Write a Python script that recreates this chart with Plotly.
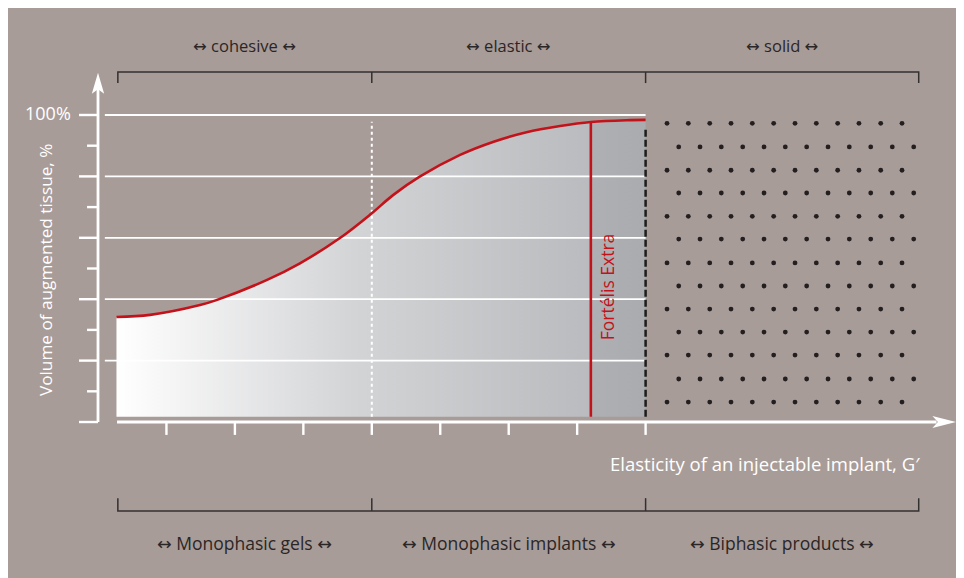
import plotly.graph_objects as go

# ---------------- data ----------------
curve_x = [0.27, 0.76, 1.49, 1.73, 2.47, 2.95, 3.54, 3.99, 4.31, 4.70, 5.29, 5.78, 6.26, 6.75, 7.20, 7.72, 8.00]
curve_y = [34.2, 34.9, 38.1, 39.7, 46.3, 51.7, 60.0, 67.8, 73.9, 79.9, 87.0, 91.3, 94.4, 96.4, 97.7, 98.3, 98.4]

fill_base = 1.7
product_x = 7.20
product_label = "Fortélis Extra"
product_top = 97.7

grid_levels = [20, 40, 60, 80, 100]
major_ticks_y = [0, 20, 40, 60, 80, 100]
minor_ticks_y = [10, 30, 50, 70, 90]
ticks_x = [1, 2, 3, 4, 5, 6, 7, 8]

region_edges = [0.29, 4, 8, 11.99]
top_labels = ["↔ cohesive ↔", "↔ elastic ↔", "↔ solid ↔"]
bottom_labels = ["↔ Monophasic gels ↔", "↔ Monophasic implants ↔", "↔ Biphasic products ↔"]

dot_rows_y = [97.3, 89.6, 82.0, 74.6, 67.0, 59.6, 51.8, 44.3, 36.8, 29.3, 21.8, 14.0, 6.5]
dot_cols_odd = [8.313, 8.624, 8.937, 9.248, 9.559, 9.871, 10.183, 10.494, 10.806, 11.117, 11.435, 11.746]
dot_cols_even = [8.484, 8.795, 9.106, 9.419, 9.730, 10.041, 10.353, 10.665, 10.976, 11.289, 11.604, 11.917]

x_title = "Elasticity of an injectable implant, G′"
y_title = "Volume of augmented tissue, %"

# ---------------- style ----------------
BG = "#a89c98"
RED = "#c4121b"
DARK = "#2b2626"
WHITE = "#ffffff"
FONT = "Open Sans, DejaVu Sans, sans-serif"

fig = go.Figure()

# gradient fills under the curve (split at product line)
i_split = curve_x.index(product_x)
seg1_x = curve_x[:i_split + 1]
seg1_y = curve_y[:i_split + 1]
seg2_x = curve_x[i_split:]
seg2_y = curve_y[i_split:]

for sx, sy, cs in [
    (seg1_x, seg1_y, [[0, "#ffffff"], [0.5, "#d3d4d6"], [1, "#b9bbbe"]]),
    (seg2_x, seg2_y, [[0, "#aeb0b3"], [1, "#a9abae"]]),
]:
    fig.add_trace(go.Scatter(x=[sx[0], sx[-1]], y=[fill_base, fill_base], mode="lines",
                             line=dict(width=0), hoverinfo="skip", showlegend=False))
    fig.add_trace(go.Scatter(x=sx, y=sy, mode="lines", line=dict(width=0, shape="spline"),
                             fill="tonexty", fillgradient=dict(type="horizontal", colorscale=cs),
                             hoverinfo="skip", showlegend=False))

# gridlines
gx, gy = [], []
for lv in grid_levels:
    gx += [0.10, 8.0, None]
    gy += [lv, lv, None]
fig.add_trace(go.Scatter(x=gx, y=gy, mode="lines", line=dict(color=WHITE, width=1.8),
                         hoverinfo="skip", showlegend=False))

# white dotted boundary at x=4
fig.add_trace(go.Scatter(x=[region_edges[1], region_edges[1]], y=[fill_base, 97.8], mode="lines",
                         line=dict(color=WHITE, width=2, dash="dot"), hoverinfo="skip", showlegend=False))
# black dashed boundary at x=8
fig.add_trace(go.Scatter(x=[region_edges[2], region_edges[2]], y=[fill_base, 96.2], mode="lines",
                         line=dict(color="#1e1c1c", width=2.5, dash="7px,3px"), hoverinfo="skip", showlegend=False))

# red curve
fig.add_trace(go.Scatter(x=curve_x, y=curve_y, mode="lines", line=dict(color=RED, width=2.6, shape="spline"),
                         hoverinfo="skip", showlegend=False))
# product vertical line
fig.add_trace(go.Scatter(x=[product_x, product_x], y=[fill_base, product_top], mode="lines",
                         line=dict(color=RED, width=2.6), hoverinfo="skip", showlegend=False))

# dot pattern (solid region)
dx, dy = [], []
for i, ry in enumerate(dot_rows_y):
    cols = dot_cols_odd if i % 2 == 0 else dot_cols_even
    dx += cols
    dy += [ry] * len(cols)
fig.add_trace(go.Scatter(x=dx, y=dy, mode="markers", marker=dict(color="#231f20", size=4.8, line=dict(width=0)),
                         hoverinfo="skip", showlegend=False))

# axes lines and ticks
ax_x = [0, 0, None, 0.278, 12.25]
ax_y = [0, 108.8, None, 0, 0]
fig.add_trace(go.Scatter(x=ax_x, y=ax_y, mode="lines", line=dict(color=WHITE, width=2.8),
                         hoverinfo="skip", showlegend=False))
tx, ty = [], []
for v in major_ticks_y:
    tx += [-0.278, 0, None]
    ty += [v, v, None]
for v in minor_ticks_y:
    tx += [-0.16, 0, None]
    ty += [v, v, None]
for v in ticks_x:
    tx += [v, v, None]
    ty += [0, -4.2, None]
fig.add_trace(go.Scatter(x=tx, y=ty, mode="lines", line=dict(color=WHITE, width=2.4),
                         hoverinfo="skip", showlegend=False))

# brackets
def bracket(y_line, y_end):
    bx, by = [region_edges[0], region_edges[0], region_edges[-1], region_edges[-1], None], [y_end, y_line, y_line, y_end, None]
    for e in region_edges[1:-1]:
        bx += [e, e, None]
        by += [y_line, y_end, None]
    return bx, by

for yl, ye in [(114.0, 110.4), (-29.0, -24.8)]:
    bx, by = bracket(yl, ye)
    fig.add_trace(go.Scatter(x=bx, y=by, mode="lines", line=dict(color="#333030", width=1.5),
                             hoverinfo="skip", showlegend=False))

# arrowheads
fig.add_shape(type="path", xref="x", yref="y", layer="above",
              path="M 0,113.8 L 0.09,106.9 L 0,108.4 L -0.09,106.9 Z",
              fillcolor=WHITE, line=dict(width=0))
fig.add_shape(type="path", xref="x", yref="y", layer="above",
              path="M 12.534,0 L 12.19,1.95 L 12.27,0 L 12.19,-1.95 Z",
              fillcolor=WHITE, line=dict(width=0))

# annotations
centers = [(region_edges[i] + region_edges[i + 1]) / 2 for i in range(3)]
for c, t in zip(centers, top_labels):
    fig.add_annotation(x=c, y=122.8, text=t, showarrow=False, font=dict(family=FONT, size=16.5, color=DARK))
for c, t in zip(centers, bottom_labels):
    fig.add_annotation(x=c, y=-39.4, text=t, showarrow=False, font=dict(family=FONT, size=17.5, color=DARK))

fig.add_annotation(x=12.04, y=-13.4, text=x_title, showarrow=False, xanchor="right",
                   font=dict(family=FONT, size=18.5, color=WHITE))
fig.add_annotation(x=-0.774, y=49.5, text=y_title, showarrow=False, textangle=-90,
                   font=dict(family=FONT, size=17.2, color=WHITE))
fig.add_annotation(x=-0.365, y=100.6, text="100%", showarrow=False, xanchor="right",
                   font=dict(family=FONT, size=18, color=WHITE))
fig.add_annotation(x=7.43, y=44.1, text=product_label, showarrow=False, textangle=-90,
                   font=dict(family=FONT, size=17.5, color=RED))

fig.update_layout(
    width=956, height=570, autosize=False,
    margin=dict(l=0, r=0, t=0, b=0, pad=0),
    paper_bgcolor=BG, plot_bgcolor=BG,
    xaxis=dict(visible=False, range=[-1.3148, 12.6516], fixedrange=True),
    yaxis=dict(visible=False, range=[-50.81, 134.85], fixedrange=True),
    showlegend=False,
)

fig.write_html("out.html", config={"displayModeBar": False})
